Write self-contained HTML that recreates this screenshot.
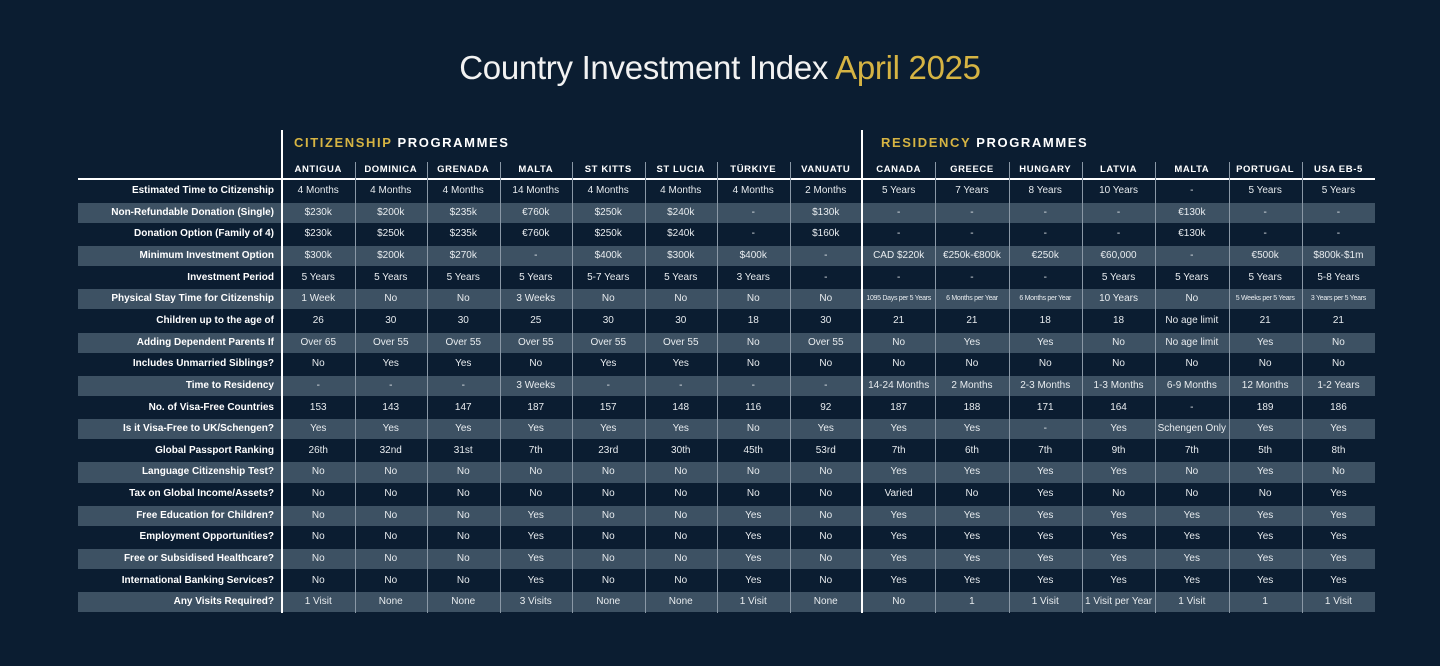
<!DOCTYPE html>
<html><head><meta charset="utf-8">
<style>
html,body{margin:0;padding:0}
body{width:1440px;height:666px;background:#0b1d31;position:relative;overflow:hidden;font-family:"Liberation Sans","DejaVu Sans",sans-serif;color:#fff}
.abs{position:absolute}
.title{left:0;width:1440px;top:49px;text-align:center;font-size:33px;font-weight:normal;letter-spacing:-0.3px;color:#f2f2f2}
.title .gold{color:#d6b443}
.sec{font-size:13px;font-weight:bold;letter-spacing:1.6px;top:135px}
.sec .gold{color:#d6b443}
.hdr{font-size:9.5px;font-weight:bold;letter-spacing:0.6px;text-align:center;top:164px}
.lbl{font-size:10px;font-weight:bold;text-align:right;width:196px;left:78px}
.cell{font-size:10px;text-align:center;color:#e8ecef}
.stripe{background:#3d5163;left:78px;width:1297px}
.vl{background:#8a98a6;width:1px}
.vw{background:#fff;width:2px}
</style></head><body>
<div class="abs title">Country Investment Index <span class="gold">April 2025</span></div>
<div class="abs sec" style="left:294px"><span class="gold">CITIZENSHIP</span> PROGRAMMES</div>
<div class="abs sec" style="left:881px"><span class="gold">RESIDENCY</span> PROGRAMMES</div>
<div id="tbl"></div>
<script>
const countries=["ANTIGUA","DOMINICA","GRENADA","MALTA","ST KITTS","ST LUCIA","TÜRKIYE","VANUATU","CANADA","GREECE","HUNGARY","LATVIA","MALTA","PORTUGAL","USA EB-5"];
const rowLabels=["Estimated Time to Citizenship","Non-Refundable Donation (Single)","Donation Option (Family of 4)","Minimum Investment Option","Investment Period","Physical Stay Time for Citizenship","Children up to the age of","Adding Dependent Parents If","Includes Unmarried Siblings?","Time to Residency","No. of Visa-Free Countries","Is it Visa-Free to UK/Schengen?","Global Passport Ranking","Language Citizenship Test?","Tax on Global Income/Assets?","Free Education for Children?","Employment Opportunities?","Free or Subsidised Healthcare?","International Banking Services?","Any Visits Required?"];
const rows=[
["4 Months","4 Months","4 Months","14 Months","4 Months","4 Months","4 Months","2 Months","5 Years","7 Years","8 Years","10 Years","-","5 Years","5 Years"],
["$230k","$200k","$235k","€760k","$250k","$240k","-","$130k","-","-","-","-","€130k","-","-"],
["$230k","$250k","$235k","€760k","$250k","$240k","-","$160k","-","-","-","-","€130k","-","-"],
["$300k","$200k","$270k","-","$400k","$300k","$400k","-","CAD $220k","€250k-€800k","€250k","€60,000","-","€500k","$800k-$1m"],
["5 Years","5 Years","5 Years","5 Years","5-7 Years","5 Years","3 Years","-","-","-","-","5 Years","5 Years","5 Years","5-8 Years"],
["1 Week","No","No","3 Weeks","No","No","No","No","1095 Days per 5 Years","6 Months per Year","6 Months per Year","10 Years","No","5 Weeks per 5 Years","3 Years per 5 Years"],
["26","30","30","25","30","30","18","30","21","21","18","18","No age limit","21","21"],
["Over 65","Over 55","Over 55","Over 55","Over 55","Over 55","No","Over 55","No","Yes","Yes","No","No age limit","Yes","No"],
["No","Yes","Yes","No","Yes","Yes","No","No","No","No","No","No","No","No","No"],
["-","-","-","3 Weeks","-","-","-","-","14-24 Months","2 Months","2-3 Months","1-3 Months","6-9 Months","12 Months","1-2 Years"],
["153","143","147","187","157","148","116","92","187","188","171","164","-","189","186"],
["Yes","Yes","Yes","Yes","Yes","Yes","No","Yes","Yes","Yes","-","Yes","Schengen Only","Yes","Yes"],
["26th","32nd","31st","7th","23rd","30th","45th","53rd","7th","6th","7th","9th","7th","5th","8th"],
["No","No","No","No","No","No","No","No","Yes","Yes","Yes","Yes","No","Yes","No"],
["No","No","No","No","No","No","No","No","Varied","No","Yes","No","No","No","Yes"],
["No","No","No","Yes","No","No","Yes","No","Yes","Yes","Yes","Yes","Yes","Yes","Yes"],
["No","No","No","Yes","No","No","Yes","No","Yes","Yes","Yes","Yes","Yes","Yes","Yes"],
["No","No","No","Yes","No","No","Yes","No","Yes","Yes","Yes","Yes","Yes","Yes","Yes"],
["No","No","No","Yes","No","No","Yes","No","Yes","Yes","Yes","Yes","Yes","Yes","Yes"],
["1 Visit","None","None","3 Visits","None","None","1 Visit","None","No","1","1 Visit","1 Visit per Year","1 Visit","1","1 Visit"]
];
const T=document.getElementById('tbl');
const TOP=180, RH=21.65;
function colX(i){return i<8?282+i*72.5:862+(i-8)*73.3;}
function colW(i){return i<8?72.5:73.3;}
function mk(cls,st){const d=document.createElement('div');d.className='abs '+cls;Object.assign(d.style,st);T.appendChild(d);return d;}
rows.forEach((r,ri)=>{
  if(ri%2===1){const s=mk('stripe',{top:(TOP+ri*RH+1)+'px',height:(RH-1.5)+'px'});
    
    }
});
const hl=mk('',{left:'78px',width:'1297px',top:'178px',height:'2px',background:'#fff'});


for(let i=1;i<15;i++){
  if(i===8)continue;
  const v=mk('vl',{left:colX(i)+'px',top:'162px',height:(TOP+20*RH-162)+'px'});
  
  
}
[282,862].forEach(x=>{const v=mk('vw',{left:(x-1)+'px',top:'130px',height:(TOP+20*RH-130)+'px'});
  
  });
countries.forEach((c,i)=>{const h=mk('hdr',{left:colX(i)+'px',width:colW(i)+'px'});h.textContent=c;
  
  });
rowLabels.forEach((l,ri)=>{const d=mk('lbl',{top:(TOP+ri*RH+5)+'px'});d.textContent=l;
  
  });
rows.forEach((r,ri)=>r.forEach((v,ci)=>{
  const small=v.length>16;
  const d=mk('cell',{left:colX(ci)+'px',width:colW(ci)+'px',top:(TOP+ri*RH+(small?6.5:5))+'px',fontSize:small?'7px':'10px',letterSpacing:small?'-0.3px':'0',whiteSpace:'nowrap'});
  d.textContent=v;
  
  
}));
</script>
</body></html>
